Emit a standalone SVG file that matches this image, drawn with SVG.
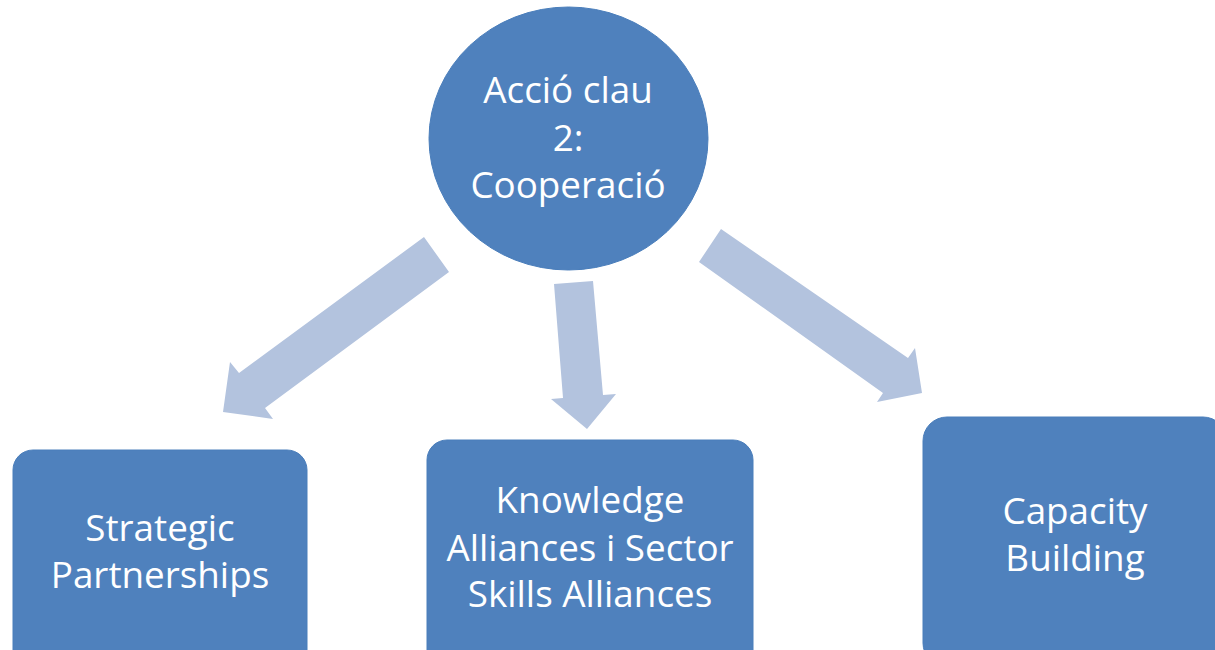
<svg xmlns="http://www.w3.org/2000/svg" width="1215" height="650" viewBox="0 0 1215 650">
<style>
.node{fill:#4F81BD;stroke:#4A7EBB;stroke-width:1}
.arr{fill:#B3C3DE}
.t{font-family:"Open Sans","Noto Sans","Liberation Sans",sans-serif;font-size:36.8px;fill:#FFFFFF;text-anchor:middle}
</style>
<rect width="1215" height="650" fill="#FFFFFF"/>
<g id="connectors">
<polygon class="arr" points="424,237 449,272 265,408 273,419 223,412 230,362 239,373"/>
<polygon class="arr" points="554,284 593,281 603,395 616,394 587,429 551,399 563,398"/>
<polygon class="arr" points="721,229 699,262 883,393 877,402 922,393 915,348 908,358"/>
</g>
<g id="node-center">
<ellipse class="node" cx="568.5" cy="138.5" rx="139.5" ry="131.5"/>
<text class="t" x="568" y="103">Acció clau</text>
<text class="t" x="568" y="151">2:</text>
<text class="t" x="568" y="198">Cooperació</text>
</g>
<g id="node-strategic">
<rect class="node" x="13" y="450" width="294" height="220" rx="20"/>
<text class="t" x="160" y="541">Strategic</text>
<text class="t" x="160" y="588">Partnerships</text>
</g>
<g id="node-knowledge">
<rect class="node" x="427" y="440" width="326" height="230" rx="20"/>
<text class="t" x="590" y="513">Knowledge</text>
<text class="t" x="590" y="561">Alliances i Sector</text>
<text class="t" x="590" y="607">Skills Alliances</text>
</g>
<g id="node-capacity">
<rect class="node" x="923" y="417" width="304" height="250" rx="24"/>
<text class="t" x="1075" y="524">Capacity</text>
<text class="t" x="1075" y="571">Building</text>
</g>
</svg>
